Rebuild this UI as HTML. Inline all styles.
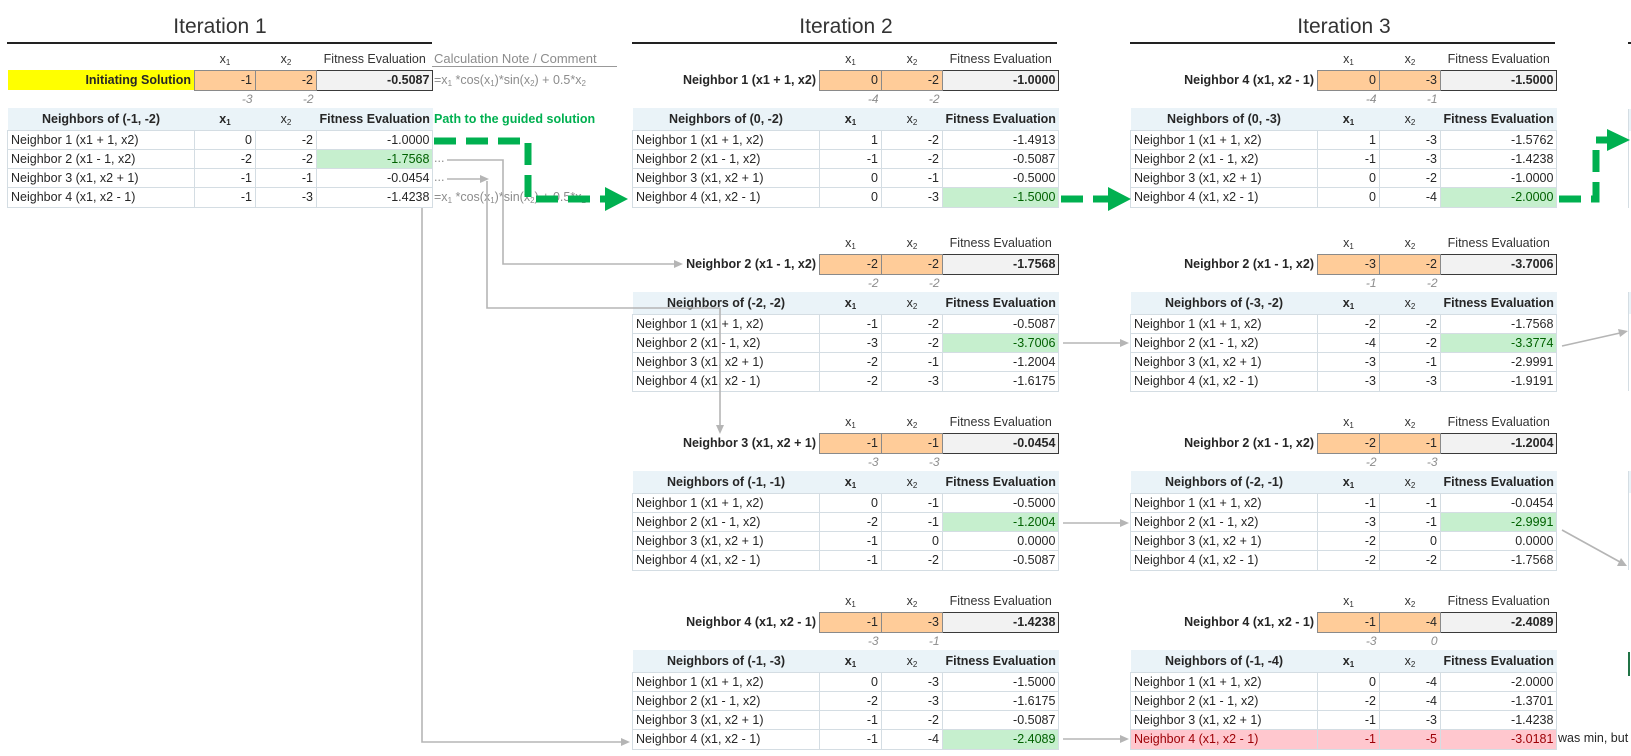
<!DOCTYPE html>
<html><head><meta charset="utf-8">
<style>
*{margin:0;padding:0;box-sizing:border-box}
body{width:1631px;height:756px;background:#fff;position:relative;overflow:hidden;font-family:"Liberation Sans",sans-serif;color:#262626;font-size:12.5px}
.ttl{position:absolute;top:15px;font-size:21px;color:#333;transform:translateX(-50%);white-space:nowrap}
.ul{position:absolute;top:42px;height:1.5px;background:#222}
.blk{position:absolute}
table{border-collapse:collapse;table-layout:fixed}
td{padding:0 3px;white-space:nowrap;overflow:visible}
sub{font-size:8px;vertical-align:-2px;line-height:0}
tr.h{height:22px}
tr.h td{text-align:center;color:#333}
tr.t{height:20px}
tr.t td.lb{text-align:right;font-weight:bold}
tr.t td.o{background:#ffcc99;border:1px solid #8a8a8a;text-align:right}
tr.t td.f{background:#f2f2f2;border:1.5px solid #3a3a3a;text-align:right;font-weight:bold}
tr.s{height:18px}
tr.s td{text-align:right;font-style:italic;color:#8c8c8c;font-size:12px}
tr.nh{height:22px}
tr.nh td{background:#eaf3f8;text-align:center;border-bottom:1px solid #d4dde3}
tr.nh td.b{font-weight:bold}
tr.r{height:19.25px}
tr.r td{border:1px solid #d4dde3;text-align:right}
tr.r td:first-child{text-align:left}
td.g{background:#c6efce;color:#006100}
tr.red td{background:#ffc7ce;color:#9c0006}
.note{position:absolute;left:434px;color:#8c8c8c;white-space:nowrap}
</style></head><body>

<div class="ttl" style="left:220px">Iteration 1</div>
<div class="ttl" style="left:846px">Iteration 2</div>
<div class="ttl" style="left:1344px">Iteration 3</div>
<div class="ul" style="left:7px;width:425px"></div>
<div class="ul" style="left:632px;width:425px"></div>
<div class="ul" style="left:1130px;width:425px"></div>
<div class="ul" style="left:1628px;width:10px"></div>

<!-- Iteration 1 -->
<div class="blk" style="left:7px;top:48px">
<table><colgroup><col style="width:187px"><col style="width:61px"><col style="width:61px"><col style="width:116px"></colgroup>
<tr class="h"><td></td><td>x<sub>1</sub></td><td>x<sub>2</sub></td><td>Fitness Evaluation</td></tr>
<tr class="t"><td class="lb" style="background:#ffff00">Initiating Solution</td><td class="o">-1</td><td class="o">-2</td><td class="f">-0.5087</td></tr>
<tr class="s"><td></td><td>-3</td><td>-2</td><td></td></tr>
<tr class="nh"><td class="b">Neighbors of (-1, -2)</td><td class="b">x<sub>1</sub></td><td>x<sub>2</sub></td><td class="b">Fitness Evaluation</td></tr>
<tr class="r"><td>Neighbor 1 (x1 + 1, x2)</td><td>0</td><td>-2</td><td>-1.0000</td></tr>
<tr class="r"><td>Neighbor 2 (x1 - 1, x2)</td><td>-2</td><td>-2</td><td class="g">-1.7568</td></tr>
<tr class="r"><td>Neighbor 3 (x1, x2 + 1)</td><td>-1</td><td>-1</td><td>-0.0454</td></tr>
<tr class="r"><td>Neighbor 4 (x1, x2 - 1)</td><td>-1</td><td>-3</td><td>-1.4238</td></tr>
</table></div>
<div class="note" style="top:51px;font-size:13px">Calculation Note / Comment</div>
<div style="position:absolute;left:432px;top:66px;width:185px;height:1px;background:#999"></div>
<div class="note" style="top:73px">=x<sub>1</sub> *cos(x<sub>1</sub>)*sin(x<sub>2</sub>) + 0.5*x<sub>2</sub></div>
<div class="note" style="top:112px;color:#00b050;font-weight:bold">Path to the guided solution</div>
<div class="note" style="top:151px">...</div>
<div class="note" style="top:170px">...</div>
<div class="note" style="top:190px">=x<sub>1</sub> *cos(x<sub>1</sub>)*sin(x<sub>2</sub>) + 0.5*x<sub>2</sub></div>

<!-- Iteration 2 -->
<div class="blk" style="left:632px;top:48px">
<table><colgroup><col style="width:187px"><col style="width:62px"><col style="width:61px"><col style="width:115px"></colgroup>
<tr class="h"><td></td><td>x<sub>1</sub></td><td>x<sub>2</sub></td><td>Fitness Evaluation</td></tr>
<tr class="t"><td class="lb">Neighbor 1 (x1 + 1, x2)</td><td class="o">0</td><td class="o">-2</td><td class="f">-1.0000</td></tr>
<tr class="s"><td></td><td>-4</td><td>-2</td><td></td></tr>
<tr class="nh"><td class="b">Neighbors of (0, -2)</td><td class="b">x<sub>1</sub></td><td>x<sub>2</sub></td><td class="b">Fitness Evaluation</td></tr>
<tr class="r"><td>Neighbor 1 (x1 + 1, x2)</td><td>1</td><td>-2</td><td>-1.4913</td></tr>
<tr class="r"><td>Neighbor 2 (x1 - 1, x2)</td><td>-1</td><td>-2</td><td>-0.5087</td></tr>
<tr class="r"><td>Neighbor 3 (x1, x2 + 1)</td><td>0</td><td>-1</td><td>-0.5000</td></tr>
<tr class="r"><td>Neighbor 4 (x1, x2 - 1)</td><td>0</td><td>-3</td><td class="g">-1.5000</td></tr>
</table></div>

<div class="blk" style="left:632px;top:232px">
<table><colgroup><col style="width:187px"><col style="width:62px"><col style="width:61px"><col style="width:115px"></colgroup>
<tr class="h"><td></td><td>x<sub>1</sub></td><td>x<sub>2</sub></td><td>Fitness Evaluation</td></tr>
<tr class="t"><td class="lb">Neighbor 2 (x1 - 1, x2)</td><td class="o">-2</td><td class="o">-2</td><td class="f">-1.7568</td></tr>
<tr class="s"><td></td><td>-2</td><td>-2</td><td></td></tr>
<tr class="nh"><td class="b">Neighbors of (-2, -2)</td><td class="b">x<sub>1</sub></td><td>x<sub>2</sub></td><td class="b">Fitness Evaluation</td></tr>
<tr class="r"><td>Neighbor 1 (x1 + 1, x2)</td><td>-1</td><td>-2</td><td>-0.5087</td></tr>
<tr class="r"><td>Neighbor 2 (x1 - 1, x2)</td><td>-3</td><td>-2</td><td class="g">-3.7006</td></tr>
<tr class="r"><td>Neighbor 3 (x1, x2 + 1)</td><td>-2</td><td>-1</td><td>-1.2004</td></tr>
<tr class="r"><td>Neighbor 4 (x1, x2 - 1)</td><td>-2</td><td>-3</td><td>-1.6175</td></tr>
</table></div>

<div class="blk" style="left:632px;top:411px">
<table><colgroup><col style="width:187px"><col style="width:62px"><col style="width:61px"><col style="width:115px"></colgroup>
<tr class="h"><td></td><td>x<sub>1</sub></td><td>x<sub>2</sub></td><td>Fitness Evaluation</td></tr>
<tr class="t"><td class="lb">Neighbor 3 (x1, x2 + 1)</td><td class="o">-1</td><td class="o">-1</td><td class="f">-0.0454</td></tr>
<tr class="s"><td></td><td>-3</td><td>-3</td><td></td></tr>
<tr class="nh"><td class="b">Neighbors of (-1, -1)</td><td class="b">x<sub>1</sub></td><td>x<sub>2</sub></td><td class="b">Fitness Evaluation</td></tr>
<tr class="r"><td>Neighbor 1 (x1 + 1, x2)</td><td>0</td><td>-1</td><td>-0.5000</td></tr>
<tr class="r"><td>Neighbor 2 (x1 - 1, x2)</td><td>-2</td><td>-1</td><td class="g">-1.2004</td></tr>
<tr class="r"><td>Neighbor 3 (x1, x2 + 1)</td><td>-1</td><td>0</td><td>0.0000</td></tr>
<tr class="r"><td>Neighbor 4 (x1, x2 - 1)</td><td>-1</td><td>-2</td><td>-0.5087</td></tr>
</table></div>

<div class="blk" style="left:632px;top:590px">
<table><colgroup><col style="width:187px"><col style="width:62px"><col style="width:61px"><col style="width:115px"></colgroup>
<tr class="h"><td></td><td>x<sub>1</sub></td><td>x<sub>2</sub></td><td>Fitness Evaluation</td></tr>
<tr class="t"><td class="lb">Neighbor 4 (x1, x2 - 1)</td><td class="o">-1</td><td class="o">-3</td><td class="f">-1.4238</td></tr>
<tr class="s"><td></td><td>-3</td><td>-1</td><td></td></tr>
<tr class="nh"><td class="b">Neighbors of (-1, -3)</td><td class="b">x<sub>1</sub></td><td>x<sub>2</sub></td><td class="b">Fitness Evaluation</td></tr>
<tr class="r"><td>Neighbor 1 (x1 + 1, x2)</td><td>0</td><td>-3</td><td>-1.5000</td></tr>
<tr class="r"><td>Neighbor 2 (x1 - 1, x2)</td><td>-2</td><td>-3</td><td>-1.6175</td></tr>
<tr class="r"><td>Neighbor 3 (x1, x2 + 1)</td><td>-1</td><td>-2</td><td>-0.5087</td></tr>
<tr class="r"><td>Neighbor 4 (x1, x2 - 1)</td><td>-1</td><td>-4</td><td class="g">-2.4089</td></tr>
</table></div>

<!-- Iteration 3 -->
<div class="blk" style="left:1130px;top:48px">
<table><colgroup><col style="width:187px"><col style="width:62px"><col style="width:61px"><col style="width:115px"></colgroup>
<tr class="h"><td></td><td>x<sub>1</sub></td><td>x<sub>2</sub></td><td>Fitness Evaluation</td></tr>
<tr class="t"><td class="lb">Neighbor 4 (x1, x2 - 1)</td><td class="o">0</td><td class="o">-3</td><td class="f">-1.5000</td></tr>
<tr class="s"><td></td><td>-4</td><td>-1</td><td></td></tr>
<tr class="nh"><td class="b">Neighbors of (0, -3)</td><td class="b">x<sub>1</sub></td><td>x<sub>2</sub></td><td class="b">Fitness Evaluation</td></tr>
<tr class="r"><td>Neighbor 1 (x1 + 1, x2)</td><td>1</td><td>-3</td><td>-1.5762</td></tr>
<tr class="r"><td>Neighbor 2 (x1 - 1, x2)</td><td>-1</td><td>-3</td><td>-1.4238</td></tr>
<tr class="r"><td>Neighbor 3 (x1, x2 + 1)</td><td>0</td><td>-2</td><td>-1.0000</td></tr>
<tr class="r"><td>Neighbor 4 (x1, x2 - 1)</td><td>0</td><td>-4</td><td class="g">-2.0000</td></tr>
</table></div>

<div class="blk" style="left:1130px;top:232px">
<table><colgroup><col style="width:187px"><col style="width:62px"><col style="width:61px"><col style="width:115px"></colgroup>
<tr class="h"><td></td><td>x<sub>1</sub></td><td>x<sub>2</sub></td><td>Fitness Evaluation</td></tr>
<tr class="t"><td class="lb">Neighbor 2 (x1 - 1, x2)</td><td class="o">-3</td><td class="o">-2</td><td class="f">-3.7006</td></tr>
<tr class="s"><td></td><td>-1</td><td>-2</td><td></td></tr>
<tr class="nh"><td class="b">Neighbors of (-3, -2)</td><td class="b">x<sub>1</sub></td><td>x<sub>2</sub></td><td class="b">Fitness Evaluation</td></tr>
<tr class="r"><td>Neighbor 1 (x1 + 1, x2)</td><td>-2</td><td>-2</td><td>-1.7568</td></tr>
<tr class="r"><td>Neighbor 2 (x1 - 1, x2)</td><td>-4</td><td>-2</td><td class="g">-3.3774</td></tr>
<tr class="r"><td>Neighbor 3 (x1, x2 + 1)</td><td>-3</td><td>-1</td><td>-2.9991</td></tr>
<tr class="r"><td>Neighbor 4 (x1, x2 - 1)</td><td>-3</td><td>-3</td><td>-1.9191</td></tr>
</table></div>

<div class="blk" style="left:1130px;top:411px">
<table><colgroup><col style="width:187px"><col style="width:62px"><col style="width:61px"><col style="width:115px"></colgroup>
<tr class="h"><td></td><td>x<sub>1</sub></td><td>x<sub>2</sub></td><td>Fitness Evaluation</td></tr>
<tr class="t"><td class="lb">Neighbor 2 (x1 - 1, x2)</td><td class="o">-2</td><td class="o">-1</td><td class="f">-1.2004</td></tr>
<tr class="s"><td></td><td>-2</td><td>-3</td><td></td></tr>
<tr class="nh"><td class="b">Neighbors of (-2, -1)</td><td class="b">x<sub>1</sub></td><td>x<sub>2</sub></td><td class="b">Fitness Evaluation</td></tr>
<tr class="r"><td>Neighbor 1 (x1 + 1, x2)</td><td>-1</td><td>-1</td><td>-0.0454</td></tr>
<tr class="r"><td>Neighbor 2 (x1 - 1, x2)</td><td>-3</td><td>-1</td><td class="g">-2.9991</td></tr>
<tr class="r"><td>Neighbor 3 (x1, x2 + 1)</td><td>-2</td><td>0</td><td>0.0000</td></tr>
<tr class="r"><td>Neighbor 4 (x1, x2 - 1)</td><td>-2</td><td>-2</td><td>-1.7568</td></tr>
</table></div>

<div class="blk" style="left:1130px;top:590px">
<table><colgroup><col style="width:187px"><col style="width:62px"><col style="width:61px"><col style="width:115px"></colgroup>
<tr class="h"><td></td><td>x<sub>1</sub></td><td>x<sub>2</sub></td><td>Fitness Evaluation</td></tr>
<tr class="t"><td class="lb">Neighbor 4 (x1, x2 - 1)</td><td class="o">-1</td><td class="o">-4</td><td class="f">-2.4089</td></tr>
<tr class="s"><td></td><td>-3</td><td>0</td><td></td></tr>
<tr class="nh"><td class="b">Neighbors of (-1, -4)</td><td class="b">x<sub>1</sub></td><td>x<sub>2</sub></td><td class="b">Fitness Evaluation</td></tr>
<tr class="r"><td>Neighbor 1 (x1 + 1, x2)</td><td>0</td><td>-4</td><td>-2.0000</td></tr>
<tr class="r"><td>Neighbor 2 (x1 - 1, x2)</td><td>-2</td><td>-4</td><td>-1.3701</td></tr>
<tr class="r"><td>Neighbor 3 (x1, x2 + 1)</td><td>-1</td><td>-3</td><td>-1.4238</td></tr>
<tr class="r red"><td>Neighbor 4 (x1, x2 - 1)</td><td>-1</td><td>-5</td><td>-3.0181</td></tr>
</table></div>
<div style="position:absolute;left:1558px;top:731px;white-space:nowrap;color:#262626">was min, but</div>

<!-- Iteration 4 partial -->
<div style="position:absolute;left:1628px;top:109px;width:10px;height:22px;background:#eaf3f8"></div>
<div style="position:absolute;left:1628px;top:109px;width:1px;height:99px;background:#d4dde3"></div>
<div style="position:absolute;left:1628px;top:292px;width:10px;height:22px;background:#eaf3f8"></div>
<div style="position:absolute;left:1628px;top:292px;width:1px;height:99px;background:#d4dde3"></div>
<div style="position:absolute;left:1628px;top:471px;width:10px;height:22px;background:#eaf3f8"></div>
<div style="position:absolute;left:1628px;top:471px;width:1px;height:99px;background:#d4dde3"></div>
<div style="position:absolute;left:1628px;top:652px;width:3px;height:24px;border-left:2px solid #217346"></div>

<svg width="1631" height="756" style="position:absolute;left:0;top:0" xmlns="http://www.w3.org/2000/svg">
<g fill="none" stroke="#b5b5b5" stroke-width="1.6">
<path d="M447,160 H503 V264 H674"/>
<path d="M447,179 H481"/>
<path d="M487,181 V308 H720 V425"/>
<path d="M422,208 V742 H622"/>
<path d="M1063,343 H1121"/>
<path d="M1063,523 H1121"/>
<path d="M1063,739 H1121"/>
<path d="M1562,346 L1620,333"/>
<path d="M1562,530 L1620,562"/>
</g>
<g fill="#b5b5b5">
<polygon points="674,260 683,264 674,268"/>
<polygon points="480,175 489,179 480,183"/>
<polygon points="716,425 720,434 724,425"/>
<polygon points="621,738 630,742 621,746"/>
<polygon points="1120,339 1129,343 1120,347"/>
<polygon points="1120,519 1129,523 1120,527"/>
<polygon points="1120,735 1129,739 1120,743"/>
<polygon points="1618,329 1628,331 1620,337"/>
<polygon points="1617,566 1627,566 1621,558"/>
</g>
<g fill="none" stroke="#00b050" stroke-width="7" stroke-dasharray="22 10">
<path d="M434,141 H528 V199 H607"/>
<path d="M1061,199 H1110"/>
<path d="M1559,199 H1596 V140 H1610"/>
</g>
<g fill="#00b050">
<polygon points="605,187 628,199 605,211"/>
<polygon points="1108,187 1131,199 1108,211"/>
<polygon points="1607,129 1630,140 1607,151"/>
</g>
</svg>
</body></html>
